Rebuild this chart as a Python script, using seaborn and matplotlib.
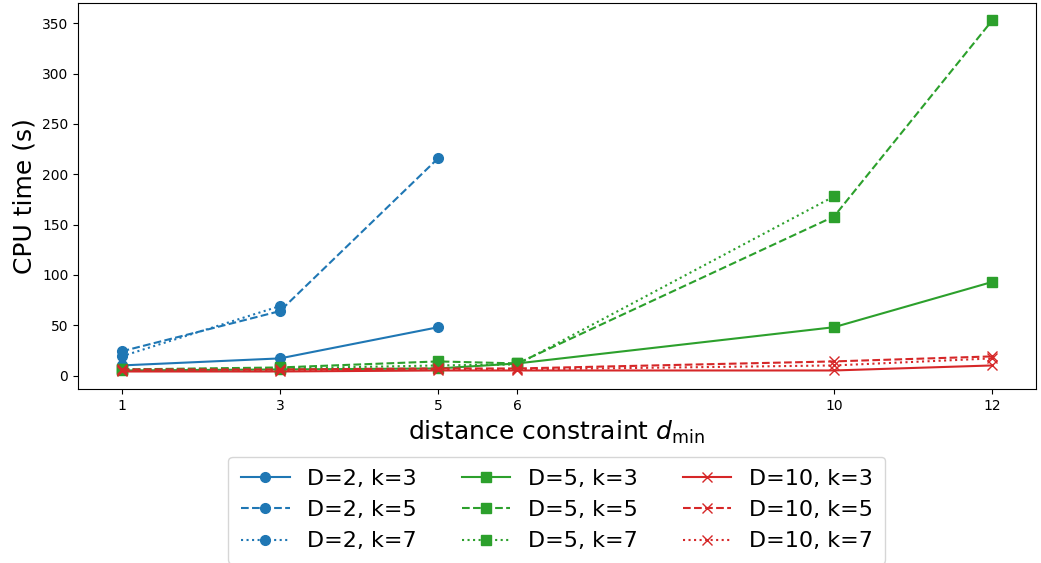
import numpy as np
import pandas as pd
import matplotlib
matplotlib.use('Agg')
import matplotlib.pyplot as plt
import seaborn as sns

dmin = [1, 3, 5, 6, 10, 12]

d2_k3 = [10, 17, 48]
d2_k5 = [24, 64, 216]
d2_k7 = [19, 69]

d5_k3 = [5, 6, 7, 12, 48, 93]
d5_k5 = [6, 8, 14, 12, 158, 353]
d5_k7 = [6, 7, 10, 11, 178]

d10_k3 = [4, 4, 5, 5, 5, 10]
d10_k5 = [6, 6, 7, 7, 14, 19]
d10_k7 = [5, 5, 6, 6, 10, 17]

series = [
    ('D=2, k=3', d2_k3, 'tab:blue', '-', 'o'),
    ('D=2, k=5', d2_k5, 'tab:blue', '--', 'o'),
    ('D=2, k=7', d2_k7, 'tab:blue', ':', 'o'),
    ('D=5, k=3', d5_k3, 'tab:green', '-', 's'),
    ('D=5, k=5', d5_k5, 'tab:green', '--', 's'),
    ('D=5, k=7', d5_k7, 'tab:green', ':', 's'),
    ('D=10, k=3', d10_k3, 'tab:red', '-', 'x'),
    ('D=10, k=5', d10_k5, 'tab:red', '--', 'x'),
    ('D=10, k=7', d10_k7, 'tab:red', ':', 'x'),
]

fig, ax = plt.subplots(figsize=(10.41, 5.63), dpi=100)

for label, ys, color, ls, mk in series:
    df = pd.DataFrame({'x': dmin[:len(ys)], 'y': ys})
    sns.lineplot(data=df, x='x', y='y', ax=ax, label=label, color=color,
                 linestyle=ls, marker=mk, markersize=7, linewidth=1.5,
                 markeredgecolor=color, markeredgewidth=1.0, errorbar=None)

ax.set_xticks(dmin)
ax.set_xlabel(r'distance constraint $d_{\min}$', fontsize=18)
ax.set_ylabel('CPU time (s)', fontsize=18)
ax.legend(loc='upper center', bbox_to_anchor=(0.5, -0.147), ncol=3, fontsize=16,
          handlelength=2.2, borderpad=0.55)

fig.subplots_adjust(left=0.075, right=0.995, top=0.995, bottom=0.309)
plt.savefig('out.png')
